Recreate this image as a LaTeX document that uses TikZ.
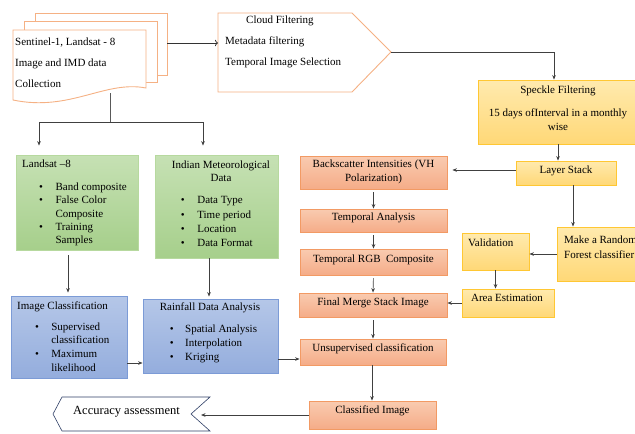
\documentclass[tikz,border=0pt]{standalone}
\usepackage{fontspec}
\setmainfont{Liberation Serif}
\usetikzlibrary{arrows.meta}
\definecolor{docline}{HTML}{F5B184}
\definecolor{salline}{HTML}{F29A64}
\definecolor{saltop}{HTML}{F9CBB0}
\definecolor{salbot}{HTML}{F5AC88}
\definecolor{yelline}{HTML}{FFC733}
\definecolor{yeltop}{HTML}{FFEAAE}
\definecolor{yelbot}{HTML}{FFD877}
\definecolor{grnline}{HTML}{B7D99F}
\definecolor{grntop}{HTML}{C6E1B4}
\definecolor{grnbot}{HTML}{A6CF8B}
\definecolor{bluline}{HTML}{7C9BD6}
\definecolor{blutop}{HTML}{B5C7E8}
\definecolor{blubot}{HTML}{94ADDD}
\definecolor{accline}{HTML}{2F3F66}
\begin{document}
\begin{tikzpicture}[x=1pt, y=-1pt,
  every node/.style={inner sep=0pt, font=\fontsize{11}{13.3}\selectfont},
  arr/.style={-{Stealth[length=4.5pt,width=3.6pt]}, draw=black!75, line width=0.7pt},
  link/.style={draw=black!65, line width=0.8pt},
  salbox/.style={draw=salline, line width=0.8pt, top color=saltop, bottom color=salbot},
  yelbox/.style={draw=yelline, line width=0.8pt, top color=yeltop, bottom color=yelbot},
  grnbox/.style={draw=grnline, line width=0.8pt, top color=grntop, bottom color=grnbot},
  blubox/.style={draw=bluline, line width=0.8pt, top color=blutop, bottom color=blubot}]
\useasboundingbox (0,0) rectangle (635,434);

\draw[docline, line width=0.9pt, fill=white] (35,13) rectangle (167,75);
\draw[docline, line width=0.9pt, fill=white] (24,21) rectangle (157,82);
\draw[docline, line width=0.9pt, fill=white] (13,30) -- (146,30) -- (146,88)
  .. controls (105,80) and (70,112) .. (13,100) -- cycle;
\node[anchor=west, align=left, font=\fontsize{11}{21}\selectfont] (doc) at (15,63)
  {Sentinel-1, Landsat - 8\\Image and IMD data\\Collection};
\coordinate (docout) at (167,43);
\coordinate (docbot) at (110,93);
\coordinate (split) at (110,122);

\draw[docline, line width=0.9pt, fill=white] (218,13) -- (352,13) -- (391,52)
  -- (352,92) -- (218,92) -- cycle;
\coordinate (filtin) at (218,43);
\coordinate (filttip) at (391,52);
\node[anchor=west, align=left, font=\fontsize{11}{21}\selectfont] (filt) at (225,42)
  {\hspace{21pt}Cloud Filtering\\Metadata filtering\\Temporal Image Selection};

\node[yelbox, minimum width=160pt, minimum height=64pt] (speckle) at (558,112) {};
\node[align=center] (speckle-t) at (558,108)
  {Speckle Filtering\\[10pt]15 days ofInterval in a monthly\\wise};
\node[yelbox, minimum width=100pt, minimum height=24pt] (layer) at (566,173) {};
\node (layer-t) at (566,171) {Layer Stack};

\node[salbox, minimum width=147pt, minimum height=33pt] (backsc) at (373.5,172.5) {};
\node[align=center] (backsc-t) at (373.5,172) {Backscatter Intensities (VH\\Polarization)};
\node[salbox, minimum width=147pt, minimum height=23pt] (tempan) at (373.5,220.5) {};
\node (tempan-t) at (373.5,218) {Temporal Analysis};
\node[salbox, minimum width=147pt, minimum height=26pt] (rgb) at (373.5,262) {};
\node (rgb-t) at (373.5,260) {Temporal RGB\ \ Composite};
\node[salbox, minimum width=148pt, minimum height=24pt] (merge) at (373,305) {};
\node (merge-t) at (373,303) {Final Merge Stack Image};
\node[salbox, minimum width=146pt, minimum height=26pt] (unsup) at (373,352) {};
\node (unsup-t) at (373,349) {Unsupervised classification};
\node[salbox, minimum width=127pt, minimum height=28pt] (classd) at (372.5,415) {};
\node (classd-t) at (372.5,411) {Classified Image};

\node[yelbox, minimum width=67pt, minimum height=37pt] (val) at (495.5,251.5) {};
\node[anchor=west] (val-t) at (468,243) {Validation};
\node[yelbox, minimum width=88pt, minimum height=54pt] (rf) at (601,254) {};
\node[anchor=west, align=left, font=\fontsize{11}{15}\selectfont] (rf-t) at (564,247.5)
  {Make a Random\\Forest classifier};
\node[yelbox, minimum width=92pt, minimum height=28pt] (area) at (508,303) {};
\node (area-t) at (507,298) {Area Estimation};

\node[grnbox, minimum width=122pt, minimum height=95pt] (landsat) at (77,202.5) {};
\node[anchor=west] (landsat-t) at (22,203)
  {\begin{tabular}{@{\hspace{17pt}}l@{\hspace{12.5pt}}l@{}}
   \multicolumn{2}{@{}l@{}}{Landsat –8}\\[9.5pt]
   \textbullet & Band composite\\
   \textbullet & False Color\\
   & Composite\\
   \textbullet & Training\\
   & Samples
   \end{tabular}};
\node[grnbox, minimum width=123pt, minimum height=103pt] (imd) at (216.5,206.5) {};
\node (imd-t) at (221,205)
  {\begin{tabular}{@{\hspace{9pt}}l@{\hspace{12.5pt}}l@{}}
   \multicolumn{2}{@{}c@{}}{Indian Meteorological}\\
   \multicolumn{2}{@{}c@{}}{Data}\\[8.5pt]
   \textbullet & Data Type\\[1pt]
   \textbullet & Time period\\[1pt]
   \textbullet & Location\\[1pt]
   \textbullet & Data Format
   \end{tabular}};

\node[blubox, minimum width=116pt, minimum height=82pt] (imgcls) at (69,337) {};
\node[anchor=west] (imgcls-t) at (17,337.5)
  {\begin{tabular}{@{\hspace{18pt}}l@{\hspace{12.3pt}}l@{}}
   \multicolumn{2}{@{}l@{}}{Image Classification}\\[7.5pt]
   \textbullet & Supervised\\
   & classification\\[1pt]
   \textbullet & Maximum\\
   & likelihood
   \end{tabular}};
\node[blubox, minimum width=135pt, minimum height=74pt] (rain) at (210.5,336) {};
\node (rain-t) at (210,333)
  {\begin{tabular}{@{\hspace{10pt}}l@{\hspace{11.5pt}}l@{}}
   \multicolumn{2}{@{}c@{}}{Rainfall\ Data Analysis}\\[9pt]
   \textbullet & Spatial Analysis\\[0.7pt]
   \textbullet & Interpolation\\[0.7pt]
   \textbullet & Kriging
   \end{tabular}};

\draw[accline, line width=0.6pt, fill=white] (62,397) -- (210,397) -- (191,414)
  -- (210,431) -- (62,431) -- (53,414) -- cycle;
\coordinate (accin) at (191,414);
\node[font=\fontsize{12.5}{15}\selectfont] (acc-t) at (126.5,412) {Accuracy assessment};

\draw[-{To[length=3pt]}, draw=black!80, line width=0.7pt] (docout) -- (filtin);
\draw[arr] (filttip) -| ([xshift=-4pt]speckle.north);
\draw[arr] (speckle.south) -- (speckle.south |- layer.north);
\draw[arr, shorten >=5pt] ([yshift=3pt]layer.west) -- ([yshift=3pt]layer.west -| backsc.east);
\draw[arr] ([xshift=7pt]layer.south) -- ([xshift=7pt]layer.south |- rf.north);
\draw[arr] (rf.west) -- (rf.west -| val.east);
\draw[arr] (val.south) -- (val.south |- area.north);
\draw[arr] (area.west) -- (area.west -| merge.east);
\draw[arr, shorten <=3pt] (backsc.south) -- (tempan.north);
\draw[arr, shorten <=3pt] (tempan.south) -- (rgb.north);
\draw[arr, shorten <=3pt] (rgb.south) -- (merge.north);
\draw[arr, shorten <=3pt] (merge.south) -- (unsup.north);
\draw[arr] ([xshift=-1pt]unsup.south) -- ([xshift=-1pt]unsup.south |- classd.north);
\draw[arr, shorten >=10pt] (classd.west) -- (classd.west -| accin);

\draw[link] (docbot) -- (split);
\draw[arr, shorten >=9pt] (split) -| ([xshift=-38pt]landsat.north);
\draw[arr, shorten >=9pt] (split) -| ([xshift=-13.5pt]imd.north);
\draw[arr, shorten <=5pt, shorten >=3pt] ([xshift=-9pt]landsat.south) -- ([xshift=-9pt]landsat.south |- imgcls.north);
\draw[arr, shorten >=2pt] ([xshift=-7.5pt]imd.south) -- ([xshift=-7.5pt]imd.south |- rain.north);
\draw[arr] ([yshift=-26pt]imgcls.east) -- ([yshift=-26pt]imgcls.east -| rain.west);
\draw[arr] ([yshift=-23pt]rain.east) -- ([yshift=-23pt]rain.east -| unsup.west);
\end{tikzpicture}
\end{document}
